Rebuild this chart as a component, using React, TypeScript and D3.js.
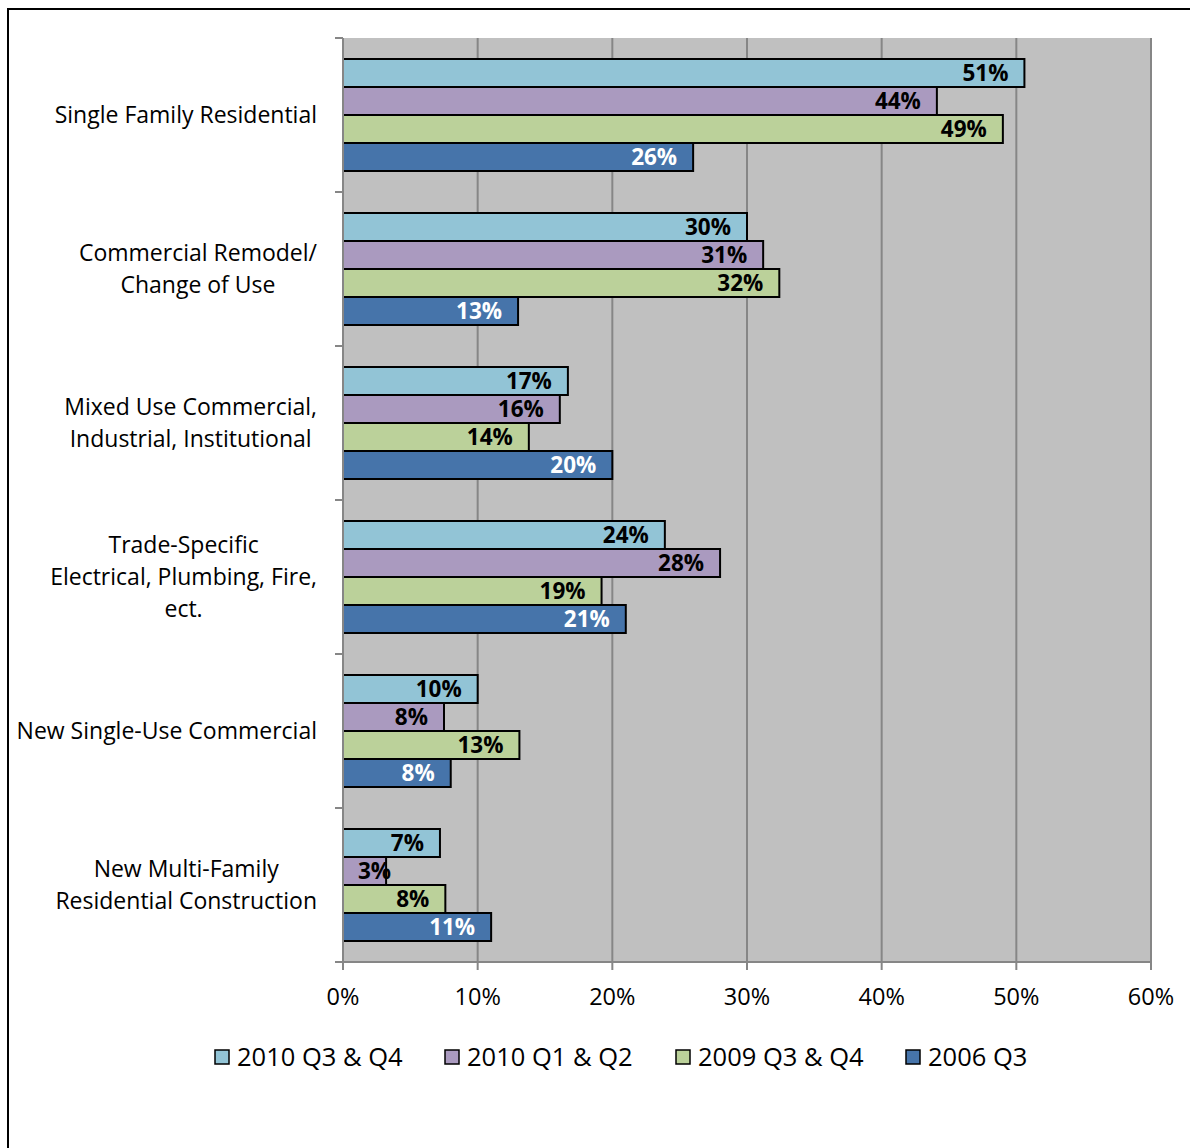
import * as d3 from 'd3'
import React from 'react'

const categories = [
  ['Single Family Residential'],
  ['Commercial Remodel/', 'Change of Use'],
  ['Mixed Use Commercial,', 'Industrial, Institutional'],
  ['Trade-Specific', 'Electrical, Plumbing, Fire,', 'ect.'],
  ['New Single-Use Commercial'],
  ['New Multi-Family', 'Residential Construction'],
]

const seriesNames = ['2010 Q3 & Q4', '2010 Q1 & Q2', '2009 Q3 & Q4', '2006 Q3']
const seriesColors = ['#92c4d6', '#aa9abf', '#bbd19a', '#4674aa']
const labelColors = ['#000', '#000', '#000', '#fff']

// one array per series, in category order
const q3q4_2010 = [50.6, 30.0, 16.7, 23.9, 10.0, 7.2]
const q1q2_2010 = [44.1, 31.2, 16.1, 28.0, 7.5, 3.2]
const q3q4_2009 = [49.0, 32.4, 13.8, 19.2, 13.1, 7.6]
const q3_2006 = [26.0, 13.0, 20.0, 21.0, 8.0, 11.0]
const barLabels = [
  ['51%', '30%', '17%', '24%', '10%', '7%'],
  ['44%', '31%', '16%', '28%', '8%', '3%'],
  ['49%', '32%', '14%', '19%', '13%', '8%'],
  ['26%', '13%', '20%', '21%', '8%', '11%'],
]
const xTicks = [0, 10, 20, 30, 40, 50, 60]

const series = [q3q4_2010, q1q2_2010, q3q4_2009, q3_2006]

const W = 1190
const H = 1148
const plot = { left: 343, right: 1151, top: 38, bottom: 962 }
const fontFamily = '"Open Sans", sans-serif'

const ctx = document.createElement('canvas').getContext('2d')
const measure = (s: string, size: number, weight = 'normal') => {
  if (!ctx) return s.length * size * 0.5
  ctx.font = `${weight} ${size}px ${fontFamily}`
  return ctx.measureText(s).width
}

const App: React.FC = () => {
  const x = d3.scaleLinear().domain([0, 60]).range([plot.left, plot.right])
  const y = d3
    .scaleBand<number>()
    .domain(d3.range(categories.length))
    .range([plot.top, plot.bottom])
    .paddingInner(0)
  const inner = d3
    .scaleBand<number>()
    .domain(d3.range(series.length))
    .range([0, y.bandwidth()])
    .paddingOuter(0.75)
    .paddingInner(0)

  const boundaries = d3.range(categories.length + 1).map((i) => plot.top + i * y.bandwidth())
  const catSize = 23
  const labelSize = 22.5

  return (
    <svg
      width={W}
      height={H}
      style={{ position: 'absolute', left: 0, top: 0, background: '#fff' }}
      fontFamily={fontFamily}
    >
      <rect x={8} y={9} width={W + 20} height={H + 20} fill='#fff' stroke='#000' strokeWidth={2} />

      {/* plot background */}
      <rect x={plot.left} y={plot.top} width={plot.right - plot.left} height={plot.bottom - plot.top} fill='#c0c0c0' />

      {/* vertical grid */}
      {xTicks.slice(1).map((t) => (
        <line key={t} x1={x(t)} x2={x(t)} y1={plot.top} y2={plot.bottom} stroke='#868686' strokeWidth={2} />
      ))}

      {/* bars */}
      {series.map((vals, s) =>
        vals.map((v, c) => {
          const by = (y(c) || 0) + (inner(s) || 0)
          const lw = measure(barLabels[s][c], labelSize, 'bold')
          const lx = Math.max(x(v) - 16, x(0) + 15 + lw)
          return (
            <g key={`${s}-${c}`}>
              <rect
                x={x(0)}
                y={by}
                width={x(v) - x(0)}
                height={inner.bandwidth()}
                fill={seriesColors[s]}
                stroke='#000'
                strokeWidth={2}
              />
              <text
                x={lx}
                y={by + inner.bandwidth() / 2}
                dy='0.36em'
                textAnchor='end'
                fontWeight='bold'
                fontSize={labelSize}
                fill={labelColors[s]}
              >
                {barLabels[s][c]}
              </text>
            </g>
          )
        })
      )}

      {/* y axis */}
      <line x1={plot.left} x2={plot.left} y1={plot.top} y2={plot.bottom + 8} stroke='#868686' strokeWidth={2} />
      {boundaries.map((b, i) => (
        <line key={i} x1={plot.left - 8} x2={plot.left} y1={b} y2={b} stroke='#868686' strokeWidth={2} />
      ))}

      {/* x axis */}
      <line x1={plot.left - 8} x2={plot.right} y1={plot.bottom} y2={plot.bottom} stroke='#868686' strokeWidth={2} />
      {xTicks.map((t) => (
        <g key={t}>
          <line x1={x(t)} x2={x(t)} y1={plot.bottom} y2={plot.bottom + 8} stroke='#868686' strokeWidth={2} />
          <text x={x(t)} y={1005} textAnchor='middle' fontSize={23.5} fill='#000'>
            {t}%
          </text>
        </g>
      ))}

      {/* category labels */}
      {categories.map((lines, c) => {
        const cy = (y(c) || 0) + y.bandwidth() / 2
        const lh = 32
        const multi = lines.length > 1
        const widest = Math.max(...lines.map((l) => measure(l, catSize)))
        return (
          <text key={c} fontSize={catSize} fill='#000' textAnchor={multi ? 'middle' : 'end'}>
            {lines.map((l, i) => (
              <tspan
                key={i}
                x={multi ? 317 - widest / 2 : 317}
                y={cy + (i - (lines.length - 1) / 2) * lh}
                dy='0.35em'
              >
                {l}
              </tspan>
            ))}
          </text>
        )
      })}

      {/* legend */}
      {seriesNames.map((n, s) => {
        const lx = [215, 445, 676, 906][s]
        return (
          <g key={n}>
            <rect x={lx} y={1050} width={14} height={14} fill={seriesColors[s]} stroke='#000' strokeWidth={1.5} />
            <text x={lx + 22} y={1057} dy='0.35em' fontSize={25.5} fill='#000'>
              {n}
            </text>
          </g>
        )
      })}
    </svg>
  )
}

export default App
